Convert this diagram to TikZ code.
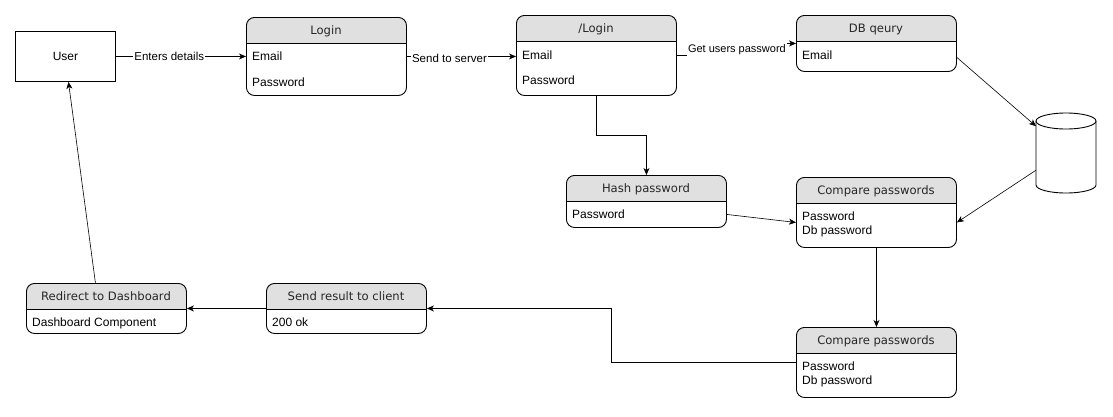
\documentclass[tikz,border=0pt]{standalone}
\usepackage{fontspec}
\setmainfont{Liberation Sans}
\newfontfamily\hdrfont{DejaVu Sans}
\usetikzlibrary{arrows.meta,calc}
\definecolor{hdrgray}{HTML}{E0E0E0}
\tikzset{
  box/.style={draw, line width=0.9pt, rounded corners=8pt, fill=white, anchor=north west,
    minimum width=160pt, inner sep=0pt,
    path picture={\fill[hdrgray, sharp corners] (path picture bounding box.north west) rectangle ([yshift=-26pt]path picture bounding box.north east);
      \draw[line width=0.9pt, sharp corners] ([yshift=-26pt]path picture bounding box.north west) -- ([yshift=-26pt]path picture bounding box.north east);}},
  ttl/.style={font=\hdrfont\fontsize{11.6}{14}\selectfont, inner sep=0pt, text=black!85, text height=8.6pt, text depth=0.4pt},
  body/.style={font=\fontsize{12}{14}\selectfont, anchor=west, inner sep=0pt, text height=8.6pt, text depth=0.4pt},
  lbl/.style={font=\fontsize{11.5}{13}\selectfont, fill=white, inner sep=1pt},
  arr/.style={-{Stealth[length=7pt,width=6pt,inset=2pt]}, line width=0.9pt},
  thinarr/.style={-{Stealth[length=7pt,width=6pt,inset=2pt]}, line width=0.6pt},
}
\begin{document}
\begin{tikzpicture}[x=1pt,y=-1pt]
\useasboundingbox (0,0) rectangle (1113,416);

% User
\node[draw, line width=0.9pt, minimum width=100pt, minimum height=50pt, anchor=north west, inner sep=0pt,
  font=\fontsize{12}{14}\selectfont] (user) at (15,31) {User};

% Login
\node[box, minimum height=78pt] (login) at (246,17) {};
\node[ttl] at (326,30) {Login};
\node[body] at (252,56) {Email};
\node[body] at (252,82) {Password};

% /Login
\node[box, minimum height=80pt] (loginB) at (516,15) {};
\node[ttl] at (596,28) {/Login};
\node[body] at (522,55) {Email};
\node[body] at (522,80) {Password};

% DB qeury
\node[box, minimum height=56pt] (dbq) at (796,15) {};
\node[ttl] at (876,28) {DB qeury};
\node[body] at (802,55) {Email};

% Database cylinder
\node[minimum width=60pt, minimum height=80pt, anchor=north west, inner sep=0pt] (db) at (1036,113) {};
\draw[line width=0.9pt, fill=white] (1036,121) -- (1036,185) arc[start angle=180, end angle=360, x radius=30pt, y radius=8pt] -- (1096,121);
\draw[line width=0.9pt, fill=white] (1066,121) ellipse [x radius=30pt, y radius=8pt];

% Hash password
\node[box, minimum height=52pt] (hash) at (566,175) {};
\node[ttl] at (646,188) {Hash password};
\node[body] at (572,214) {Password};

% Compare passwords 1
\node[box, minimum height=70pt] (cmpA) at (796,177) {};
\node[ttl] at (876,190) {Compare passwords};
\node[body] at (802,216) {Password};
\node[body] at (802,230) {Db password};

% Compare passwords 2
\node[box, minimum height=70pt] (cmpB) at (796,327) {};
\node[ttl] at (876,340) {Compare passwords};
\node[body] at (802,366) {Password};
\node[body] at (802,380) {Db password};

% Send result to client
\node[box, minimum height=50pt] (send) at (266,283) {};
\node[ttl] at (346,296) {Send result to client};
\node[body] at (272,322) {200 ok};

% Redirect to Dashboard
\node[box, minimum height=50pt] (redir) at (26,283) {};
\node[ttl] at (106,296) {Redirect to Dashboard};
\node[body] at (32,322) {Dashboard Component};

% Connectors
\draw[arr] (user.east) -- node[lbl, pos=0.41] {Enters details} (login.west);
\draw[arr] (login.east) -- node[lbl, pos=0.39, yshift=-2pt] {Send to server} (loginB.west |- login.east);
\draw[arr] (loginB.east) -- ++(60,0) |- node[lbl, pos=0.25, font=\fontsize{11}{13}\selectfont] {Get users password} (dbq.west);
\draw[arr] (loginB.south) -- ++(0,40) -| (hash.north);
\draw[thinarr] ([yshift=-14pt]dbq.east) -- ([yshift=27pt]db.west);
\draw[thinarr] ([yshift=-17pt]db.west) -- ([yshift=-10pt]cmpA.east);
\draw[thinarr] ([yshift=-13pt]hash.east) -- ([yshift=-10pt]cmpA.west);
\draw[arr] (cmpA.south) -- (cmpB.north);
\draw[arr] (cmpB.west) -- ++(-185,0) |- (send.east);
\draw[arr] (send.west) -- (redir.east);
\draw[thinarr] ([xshift=-11pt]redir.north) -- ([xshift=3pt]user.south);
\end{tikzpicture}
\end{document}
